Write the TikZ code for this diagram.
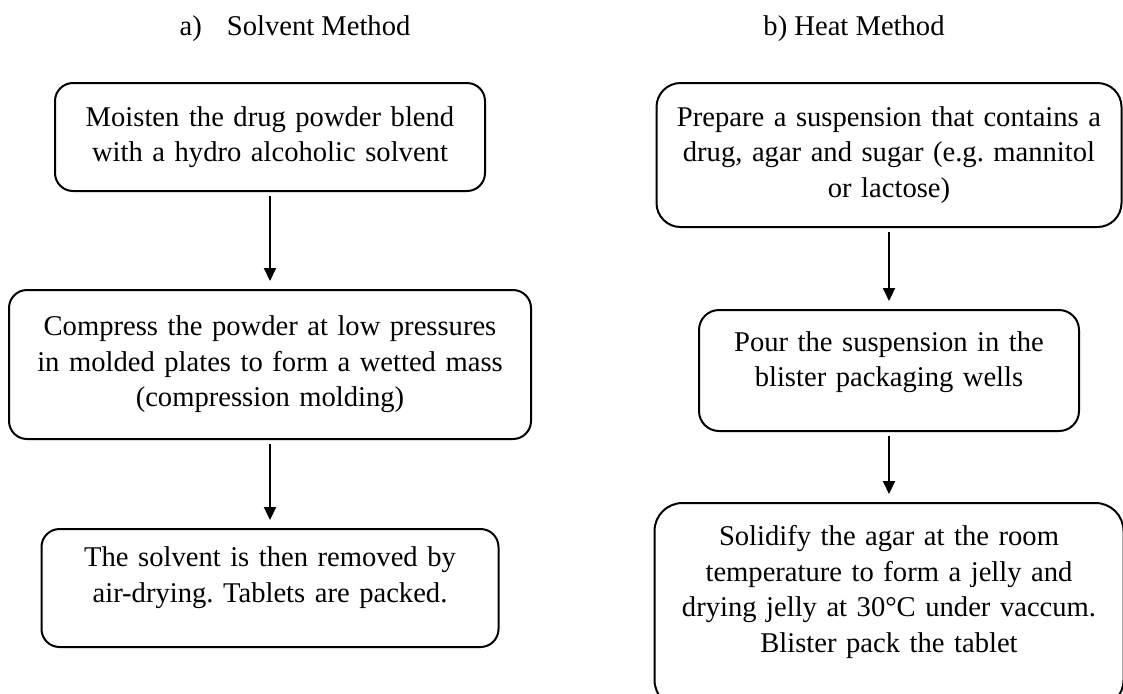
\documentclass[tikz,border=0pt]{standalone}
\usepackage{fontspec}
\setmainfont{Liberation Serif}
\usetikzlibrary{arrows.meta, positioning}
\frenchspacing
\newcommand{\padbelow}[1]{\rule[-#1]{0pt}{0pt}}

\begin{document}
\begin{tikzpicture}[->, >={Triangle[width=6pt,length=6.5pt]}, shorten >=4pt, shorten <=2pt, x=0.5pt, y=-0.5pt, line width=1pt]
        \tikzstyle{procbox} = [rectangle, draw, rounded corners=9pt, align=center, inner sep=0pt, font=\fontsize{14.3}{17.8}\selectfont]
        \tikzstyle{heading} = [anchor=base, font=\fontsize{14.3}{17.8}\selectfont]

        \useasboundingbox (0,0) rectangle (1123,693);

        % a) solvent method
        \node[heading](titleA) at (295,35) {a)\hspace{12.5pt}Solvent Method};
        \node[procbox, text width=215pt, minimum height=54pt](moisten) at (270,137) {Moisten the drug powder blend\\ with a hydro alcoholic solvent};
        \node[procbox, text width=261pt, minimum height=74.5pt](compress) [below=48.5pt of moisten] {Compress the powder at low pressures\\ in molded plates to form a wetted mass\\ (compression molding)};
        \node[procbox, text width=228.5pt, minimum height=59pt](removed) [below=44pt of compress] {The solvent is then removed by\\ air-drying. Tablets are packed.\padbelow{13.5pt}};

        % b) heat method
        \node[heading](titleB) at (854,35) {b) Heat Method};
        \node[procbox, rounded corners=12pt, text width=232.5pt, minimum height=72pt](prepare) at (889,155) {Prepare a suspension that contains a\\ drug, agar and sugar (e.g. mannitol\\ or lactose)};
        \node[procbox, rounded corners=10pt, text width=190pt, minimum height=60.5pt](pour) [below=40.5pt of prepare] {Pour the suspension in the\\ blister packaging wells\padbelow{11.5pt}};
        \node[procbox, rounded corners=14pt, text width=234.5pt, minimum height=102.5pt](solidify) [below=35pt of pour] {Solidify the agar at the room\\ temperature to form a jelly and\\ drying jelly at 30°C under vaccum.\\ Blister pack the tablet\padbelow{16.5pt}};

        \draw (moisten) -- (compress);
        \draw (compress) -- (removed);
        \draw (prepare) -- (pour);
        \draw (pour) -- (solidify);
\end{tikzpicture}
\end{document}
